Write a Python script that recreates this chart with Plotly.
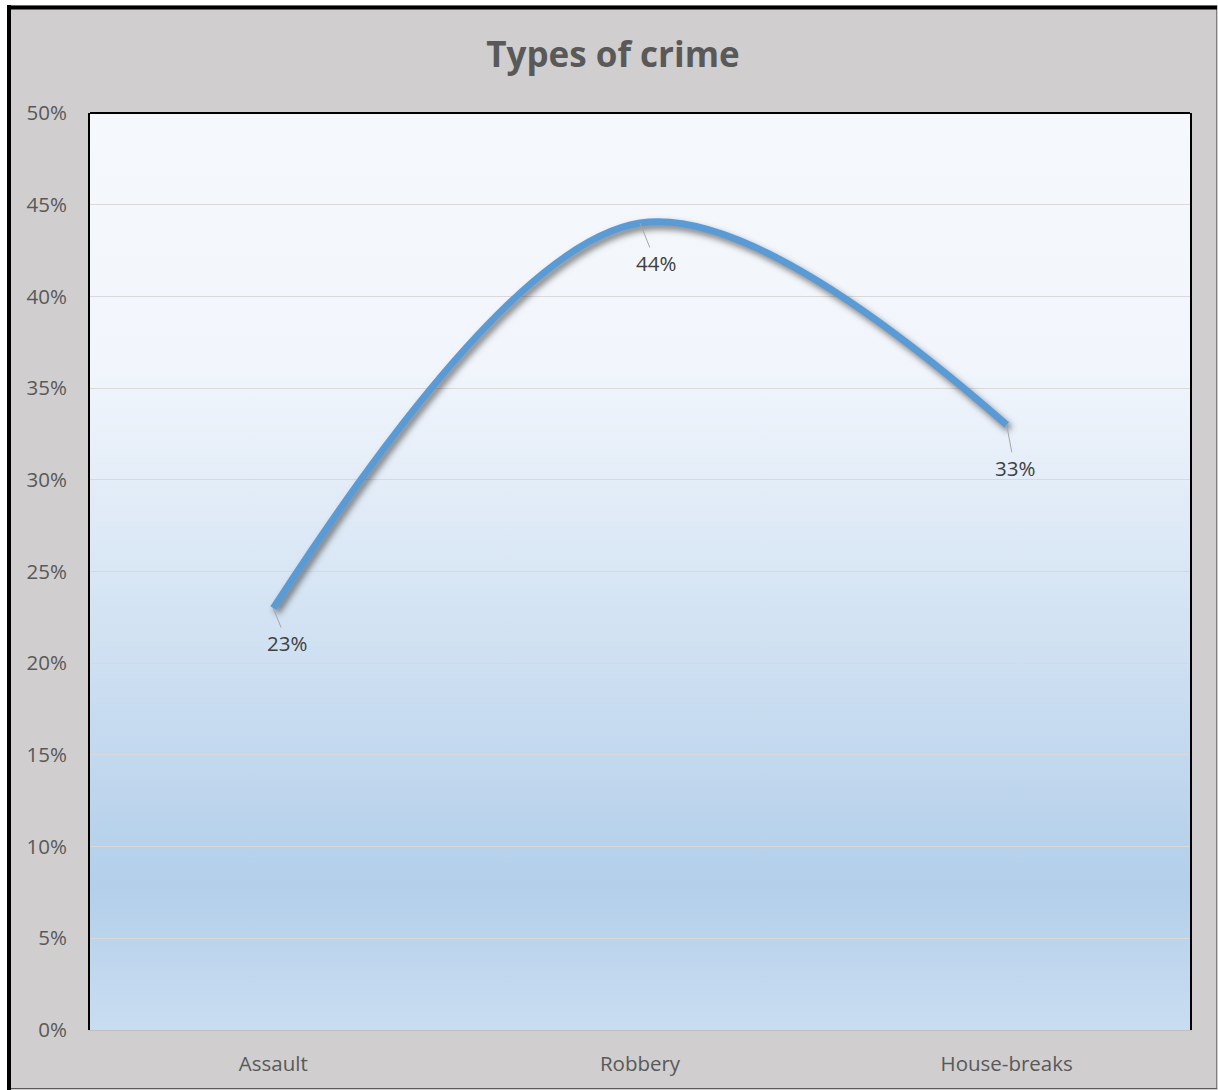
import base64
import plotly.graph_objects as go

# Chart data
categories = ["Assault", "Robbery", "House-breaks"]
shares = [0.23, 0.44, 0.33]
label_texts = ["23%", "44%", "33%"]
# pixel offsets of each data label from its point
label_dx = [14, 16, 8]
label_dy = [35, 40, 43]

W, H = 1218, 1090
ML, MR, MT, MB = 90, 28, 113, 60
FONT = "Open Sans, Lato, sans-serif"

# vertical gradient used as the plot-area fill
grad_svg = (
    '<svg xmlns="http://www.w3.org/2000/svg" width="100" height="100" preserveAspectRatio="none">'
    '<defs><linearGradient id="g" x1="0" y1="0" x2="0" y2="1">'
    '<stop offset="0" stop-color="#f5f9fd"/>'
    '<stop offset="0.27" stop-color="#f2f6fc"/>'
    '<stop offset="0.84" stop-color="#b3cfea"/>'
    '<stop offset="1" stop-color="#c9ddf1"/>'
    '</linearGradient></defs>'
    '<rect width="100" height="100" fill="url(#g)"/></svg>'
)
grad_uri = "data:image/svg+xml;base64," + base64.b64encode(grad_svg.encode()).decode()


def px_x(p):
    return (p - ML) / (W - ML - MR)


def px_y(p):
    return 1 - (p - MT) / (H - MT - MB)


fig = go.Figure()
fig.add_trace(go.Scatter(
    x=categories, y=shares, mode="lines",
    line=dict(color="#5b9bd5", width=7, shape="spline", smoothing=1),
    hoverinfo="skip", showlegend=False,
))

for c, v, t, dx, dy in zip(categories, shares, label_texts, label_dx, label_dy):
    fig.add_annotation(
        x=c, y=v, text=t, showarrow=True, arrowhead=0, arrowwidth=1,
        arrowcolor="#a6a6a6", ax=dx, ay=dy, standoff=0,
        font=dict(family=FONT, size=20.5, color="#404040"),
    )

shapes = [
    # white margin outside the chart frame
    dict(type="rect", xref="paper", yref="paper", x0=px_x(-5), x1=px_x(7),
         y0=px_y(H + 5), y1=px_y(-5), fillcolor="white", line_width=0),
    dict(type="rect", xref="paper", yref="paper", x0=px_x(-5), x1=px_x(W + 5),
         y0=px_y(5), y1=px_y(-5), fillcolor="white", line_width=0),
    # chart frame
    dict(type="line", xref="paper", yref="paper", x0=px_x(1216.5), x1=px_x(1216.5),
         y0=px_y(6), y1=px_y(1088.5), line=dict(color="#7f7f7f", width=1)),
    dict(type="line", xref="paper", yref="paper", x0=px_x(8), x1=px_x(1217),
         y0=px_y(1088.5), y1=px_y(1088.5), line=dict(color="#595959", width=1)),
    dict(type="line", xref="paper", yref="paper", x0=px_x(9), x1=px_x(9),
         y0=px_y(5), y1=px_y(1090), line=dict(color="black", width=4)),
    dict(type="line", xref="paper", yref="paper", x0=px_x(7), x1=px_x(1217),
         y0=px_y(7.5), y1=px_y(7.5), line=dict(color="black", width=4)),
    # top edge of the plot area
    dict(type="line", xref="paper", yref="paper", x0=0, x1=1, y0=1, y1=1,
         line=dict(color="black", width=2)),
]

fig.update_layout(
    width=W, height=H,
    margin=dict(l=ML, r=MR, t=MT, b=MB, pad=0),
    paper_bgcolor="#d0cece",
    plot_bgcolor="rgba(0,0,0,0)",
    font=dict(family=FONT, color="#595959"),
    title=dict(text="<b>Types of crime</b>", x=613 / W, xref="container", xanchor="center",
               y=1 - 55 / H, yanchor="middle",
               font=dict(size=35, color="#595959", family=FONT)),
    images=[dict(source=grad_uri, xref="paper", yref="paper", x=0, y=1,
                 sizex=1, sizey=1, xanchor="left", yanchor="top",
                 sizing="stretch", layer="below")],
    shapes=shapes,
    xaxis=dict(
        type="category", range=[-0.5, 2.5], showgrid=False, zeroline=False,
        showline=True, linecolor="#bfbfbf", linewidth=1,
        ticks="", ticklabelstandoff=15,
        tickfont=dict(size=20.5, color="#595959"), fixedrange=True,
    ),
    yaxis=dict(
        range=[0, 0.5], dtick=0.05, tickformat=".0%",
        showgrid=True, gridcolor="#d9d9d9", gridwidth=1, zeroline=False,
        showline=True, linecolor="black", linewidth=2, mirror=True,
        ticks="", ticklabelstandoff=17,
        tickfont=dict(size=20.5, color="#595959"), fixedrange=True,
    ),
)

shadow_js = """
(function(){
  function addShadow(){
    var gd = document.getElementById('{plot_id}');
    if(!gd) return;
    gd.querySelectorAll('.scatterlayer .js-line').forEach(function(p){
      p.style.filter = 'drop-shadow(3px 4px 3px rgba(0,0,0,0.5))';
    });
  }
  addShadow();
  setTimeout(addShadow, 50);
  setTimeout(addShadow, 300);
})();
"""

fig.write_html("out.html", post_script=shadow_js, config={"displayModeBar": False})
